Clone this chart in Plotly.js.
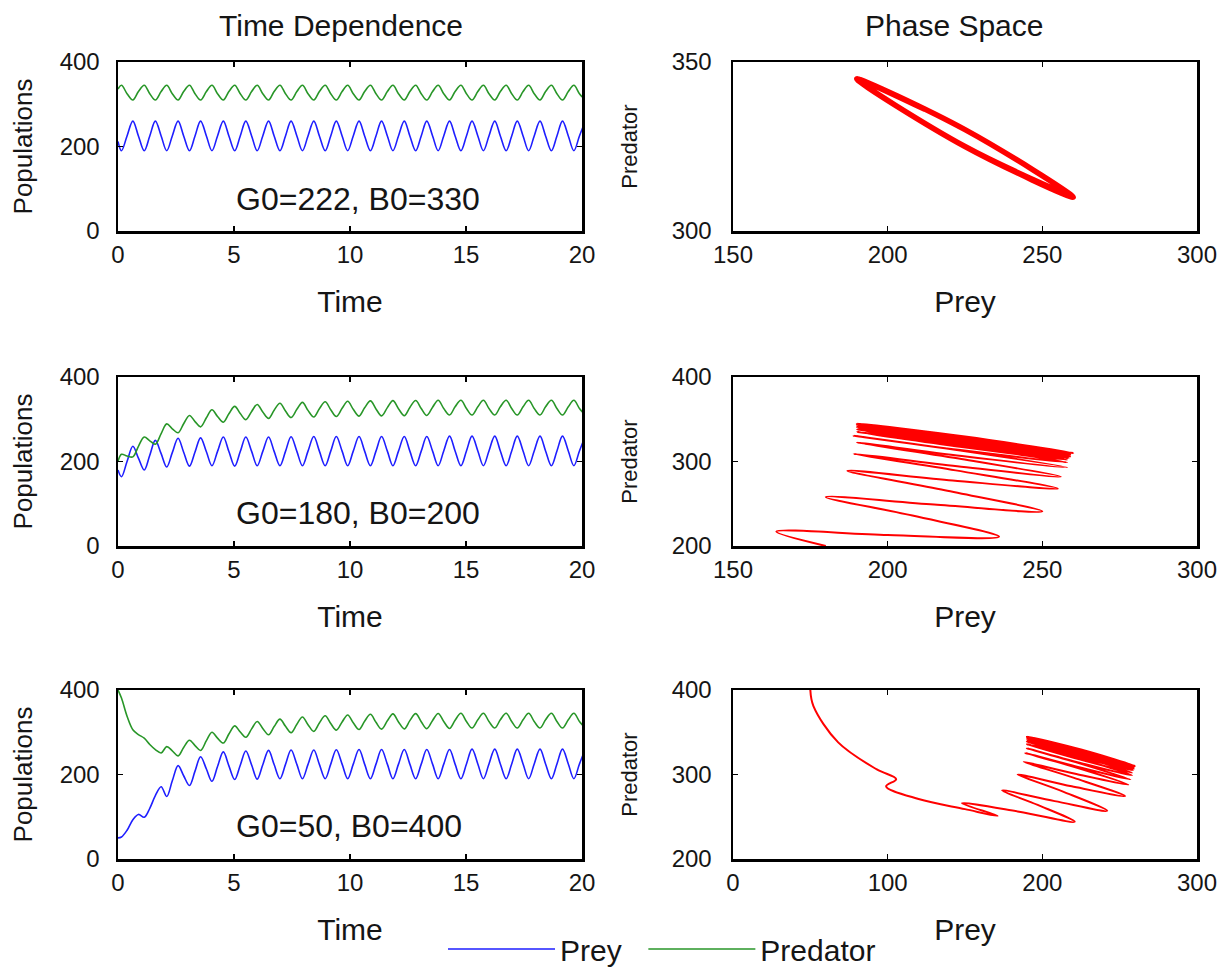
<!DOCTYPE html>
<html>
<head>
<meta charset="utf-8">
<script src="https://cdn.plot.ly/plotly-3.0.1.min.js"></script>
<style>html,body{margin:0;padding:0;background:#fff}#chart{width:1221px;height:970px}</style>
</head>
<body>
<div id="chart"></div>
<script>
// ---- data ----
const time = [
  0,
  0.15, 0.39, 0.64, 0.88,
  1.13, 1.37, 1.61, 1.86,
  2.10, 2.34, 2.59, 2.83,
  3.08, 3.32, 3.56, 3.81,
  4.05, 4.29, 4.54, 4.78,
  5.03, 5.27, 5.51, 5.76,
  6.00, 6.24, 6.49, 6.73,
  6.98, 7.22, 7.46, 7.71,
  7.95, 8.19, 8.44, 8.68,
  8.93, 9.17, 9.41, 9.66,
  9.90, 10.14, 10.39, 10.63,
  10.88, 11.12, 11.36, 11.61,
  11.85, 12.09, 12.34, 12.58,
  12.83, 13.07, 13.31, 13.56,
  13.80, 14.04, 14.29, 14.53,
  14.78, 15.02, 15.26, 15.51,
  15.75, 15.99, 16.24, 16.48,
  16.73, 16.97, 17.21, 17.46,
  17.70, 17.94, 18.19, 18.43,
  18.68, 18.92, 19.16, 19.41,
  19.65, 19.89, 20.14
];

const preyTop = [
  212,
  190, 225, 260, 225,
  190, 225, 260, 225,
  190, 225, 260, 225,
  190, 225, 260, 225,
  190, 225, 260, 225,
  190, 225, 260, 225,
  190, 225, 260, 225,
  190, 225, 260, 225,
  190, 225, 260, 225,
  190, 225, 260, 225,
  190, 225, 260, 225,
  190, 225, 260, 225,
  190, 225, 260, 225,
  190, 225, 260, 225,
  190, 225, 260, 225,
  190, 225, 260, 225,
  190, 225, 260, 225,
  190, 225, 260, 225,
  190, 225, 260, 225,
  190, 225, 260, 225,
  190, 225, 260
];
const predTop = [
  336,
  345, 325, 310, 330,
  345, 325, 310, 330,
  345, 325, 310, 330,
  345, 325, 310, 330,
  345, 325, 310, 330,
  345, 325, 310, 330,
  345, 325, 310, 330,
  345, 325, 310, 330,
  345, 325, 310, 330,
  345, 325, 310, 330,
  345, 325, 310, 330,
  345, 325, 310, 330,
  345, 325, 310, 330,
  345, 325, 310, 330,
  345, 325, 310, 330,
  345, 325, 310, 330,
  345, 325, 310, 330,
  345, 325, 310, 330,
  345, 325, 310, 330,
  345, 325, 310, 330,
  345, 325, 310
];

const preyMid = [
  180,
  164, 200, 236, 208,
  180, 215, 250, 218.5,
  187, 221, 255, 222,
  189, 222.5, 256, 223,
  190, 224, 258, 223.5,
  189, 223.5, 258, 224,
  190, 224, 258, 224,
  190, 224, 258.5, 224,
  190, 224.5, 259, 224.5,
  190, 224.5, 259, 224.5,
  190, 224.5, 259, 224.5,
  190, 224.5, 259, 224.5,
  190, 224.5, 259, 224.5,
  190, 224.5, 259, 224.5,
  190, 225, 260, 225,
  190, 225, 260, 225,
  190, 225, 260, 225,
  190, 225, 260, 225,
  190, 225, 260, 225,
  190, 225, 260, 225,
  190, 225, 260
];
const predMid = [
  200,
  217, 213, 211, 236,
  258, 249, 241, 266,
  289, 277.5, 268, 289.5,
  309, 294.5, 282, 303.5,
  322.5, 306.5, 293, 313,
  330.5, 313.5, 299, 318.5,
  335, 317, 302, 321.5,
  338, 319.5, 304, 323.5,
  340, 321, 305.5, 325,
  341.5, 322.5, 306.5, 326,
  342.5, 323.5, 307.5, 327,
  343.5, 324.5, 308, 327.5,
  344, 325, 308.5, 328,
  344.5, 325.5, 309, 328.5,
  345, 325.5, 310, 329.5,
  345, 325.5, 310, 329.5,
  345, 325.5, 310, 329.5,
  345, 325.5, 310, 329.5,
  345, 325.5, 310, 329.5,
  345, 325.5, 310, 329.5,
  345, 325.5, 310
];

const preyBot = [
  50,
  52, 68, 93, 105.5,
  99, 120, 150, 171,
  148, 185, 221, 197,
  174, 208, 242, 213,
  184, 219, 253.5, 220.5,
  188, 222, 255.5, 222.5,
  189, 223, 257, 223.5,
  190, 224, 258, 224,
  190, 224, 258, 224,
  190, 224.5, 258.5, 224.5,
  190, 224.5, 259, 224.5,
  190, 224.5, 259, 224.5,
  190, 224.5, 259, 224.5,
  190, 224.5, 259, 224.5,
  190, 224.5, 259, 224.5,
  190, 225, 260, 225,
  190, 225, 260, 225,
  190, 225, 260, 225,
  190, 225, 260, 225,
  190, 225, 260, 225,
  190, 225, 260
];
const predBot = [
  400,
  381, 338, 306, 294.5,
  286, 271, 259, 251,
  266, 256, 244, 264,
  281, 268.5, 257, 280,
  300, 286, 274.5, 296,
  315, 300.5, 288, 308,
  325.5, 309, 294, 313.5,
  331, 314, 299, 319,
  336, 318, 302, 322,
  339, 320.5, 305, 324.5,
  341, 322.5, 306.5, 326,
  342.5, 323.5, 307.5, 327,
  343.5, 324.5, 308, 327.5,
  344, 325, 308.5, 328,
  344.5, 325.5, 309, 328.5,
  345, 325.5, 310, 329.5,
  345, 325.5, 310, 329.5,
  345, 325.5, 310, 329.5,
  345, 325.5, 310, 329.5,
  345, 325.5, 310, 329.5,
  345, 325.5, 310
];

const caseLabels = ['G0=222, B0=330', 'G0=180, B0=200', 'G0=50, B0=400'];
const columnTitles = ['Time Dependence', 'Phase Space'];
const seriesNames = ['Prey', 'Predator'];
const timeTicks = [0, 5, 10, 15, 20];
const timeRange = [0, 20];
const popTicks = [0, 200, 400];
const popRange = [0, 400];
const phaseXTicks = [[150, 200, 250, 300], [150, 200, 250, 300], [0, 100, 200, 300]];
const phaseXRange = [[150, 300], [150, 300], [0, 300]];
const phaseYTicks = [[300, 350], [200, 300, 400], [200, 300, 400]];
const phaseYRange = [[300, 350], [200, 400], [200, 400]];

// ---- layout / styling ----
const W = 1221, H = 970;
const fx = v => v / W, fy = v => 1 - v / H;
const rowsPx = [[62, 231], [377, 546], [690, 859]];
const colsPx = [[118, 582], [733, 1197]];
const FONT = '"Liberation Sans", Arial, Helvetica, sans-serif';
const TXT = '#151515';
const BLUE = 'rgb(30,30,255)', GREEN = 'rgb(40,150,40)', RED = 'rgb(255,0,0)';
const NBSP = '\u00a0';

const preys = [preyTop, preyMid, preyBot];
const preds = [predTop, predMid, predBot];

function axisBase() {
  return {
    showline: true, mirror: 'ticks', linecolor: '#000', linewidth: 2.5,
    ticks: 'inside', ticklen: 5, tickwidth: 1.5, tickcolor: '#000',
    showgrid: false, zeroline: false, fixedrange: true, automargin: false,
    tickfont: {family: FONT, size: 24, color: TXT}
  };
}

const traces = [];
const layout = {
  width: W, height: H,
  margin: {l: 0, r: 0, t: 0, b: 0, autoexpand: false},
  paper_bgcolor: '#fff', plot_bgcolor: '#fff',
  font: {family: FONT, color: TXT},
  showlegend: true,
  legend: {
    orientation: 'h', x: fx(443), xanchor: 'left', y: fy(949), yanchor: 'middle',
    font: {family: FONT, size: 30, color: TXT}, itemwidth: 107,
    bgcolor: 'rgba(0,0,0,0)', borderwidth: 0, traceorder: 'normal'
  },
  annotations: []
};

for (let r = 0; r < 3; r++) {
  const a = 2 * r + 1, b = 2 * r + 2;
  const xa = a === 1 ? 'x' : 'x' + a, ya = a === 1 ? 'y' : 'y' + a;
  const xb = 'x' + b, yb = 'y' + b;
  const dom = [fy(rowsPx[r][1]), fy(rowsPx[r][0])];

  traces.push({
    type: 'scatter', mode: 'lines', x: time, y: preys[r], xaxis: xa, yaxis: ya,
    name: seriesNames[0] + NBSP + NBSP, showlegend: r === 0, legendgroup: 'prey',
    line: {color: BLUE, width: 1.6, shape: 'spline'}, hoverinfo: 'skip'
  });
  traces.push({
    type: 'scatter', mode: 'lines', x: time, y: preds[r], xaxis: xa, yaxis: ya,
    name: seriesNames[1], showlegend: r === 0, legendgroup: 'pred',
    line: {color: GREEN, width: 1.6, shape: 'spline'}, hoverinfo: 'skip'
  });
  traces.push({
    type: 'scatter', mode: 'lines', x: preys[r], y: preds[r], xaxis: xb, yaxis: yb,
    showlegend: false, line: {color: RED, width: r === 0 ? 5.5 : 2, shape: 'spline'},
    hoverinfo: 'skip'
  });

  const xKeyA = a === 1 ? 'xaxis' : 'xaxis' + a, yKeyA = a === 1 ? 'yaxis' : 'yaxis' + a;
  layout[xKeyA] = Object.assign(axisBase(), {
    domain: [fx(colsPx[0][0]), fx(colsPx[0][1])], anchor: ya,
    range: timeRange, tickvals: timeTicks, ticklabelstandoff: 1,
    title: {text: 'Time', font: {family: FONT, size: 30, color: TXT}, standoff: 24}
  });
  layout[yKeyA] = Object.assign(axisBase(), {
    domain: dom, anchor: xa,
    range: popRange, tickvals: popTicks, ticklabelstandoff: 11,
    title: {text: 'Populations', font: {family: FONT, size: 26, color: TXT}, standoff: 20}
  });
  layout['xaxis' + b] = Object.assign(axisBase(), {
    domain: [fx(colsPx[1][0]), fx(colsPx[1][1])], anchor: yb,
    range: phaseXRange[r], tickvals: phaseXTicks[r], ticklabelstandoff: 1,
    title: {text: 'Prey', font: {family: FONT, size: 30, color: TXT}, standoff: 24}
  });
  layout['yaxis' + b] = Object.assign(axisBase(), {
    domain: dom, anchor: xb,
    range: phaseYRange[r], tickvals: phaseYTicks[r], ticklabelstandoff: 14,
    title: {text: 'Predator', font: {family: FONT, size: 22, color: TXT}, standoff: 28}
  });

  layout.annotations.push({
    xref: 'paper', yref: 'paper', x: fx(234), y: fy([199, 513, 826][r]),
    xanchor: 'left', yanchor: 'middle', showarrow: false,
    text: caseLabels[r], font: {family: FONT, size: 32, color: TXT}
  });
}

layout.annotations.push({
  xref: 'paper', yref: 'paper', x: fx(341), y: fy(25), xanchor: 'center', yanchor: 'middle',
  showarrow: false, text: columnTitles[0], font: {family: FONT, size: 30, color: TXT}
});
layout.annotations.push({
  xref: 'paper', yref: 'paper', x: fx(954), y: fy(25), xanchor: 'center', yanchor: 'middle',
  showarrow: false, text: columnTitles[1], font: {family: FONT, size: 30, color: TXT}
});

Plotly.newPlot('chart', traces, layout, {staticPlot: true, displayModeBar: false});
</script>
</body>
</html>
